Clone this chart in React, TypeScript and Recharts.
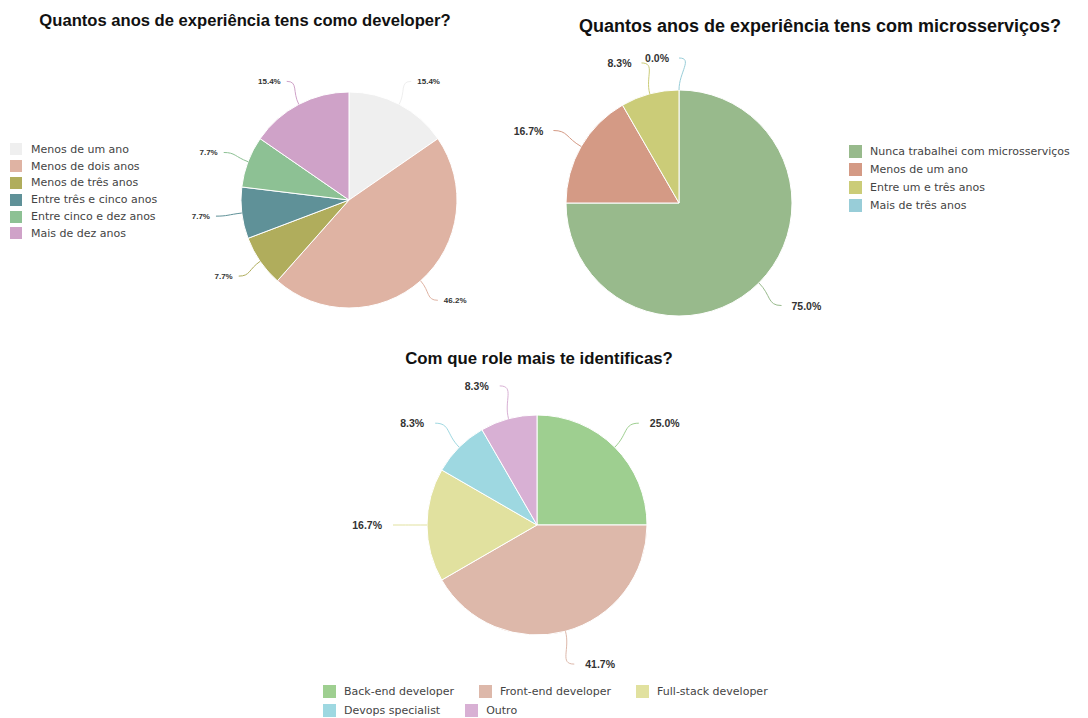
import React from "react";
import { PieChart, Pie, Cell } from "recharts";

// Quantos anos de experiência tens como developer?
const devNames = [
  "Menos de um ano",
  "Menos de dois anos",
  "Menos de três anos",
  "Entre três e cinco anos",
  "Entre cinco e dez anos",
  "Mais de dez anos",
];
const devValues = [2, 6, 1, 1, 1, 2];
const devColors = ["#efefef", "#dfb3a3", "#b0ad5c", "#5f9198", "#8dc194", "#cfa2c8"];

// Quantos anos de experiência tens com microsserviços?
const msNames = [
  "Nunca trabalhei com microsserviços",
  "Menos de um ano",
  "Entre um e três anos",
  "Mais de três anos",
];
const msValues = [9, 2, 1, 0];
const msColors = ["#98ba8c", "#d49a85", "#cbcc78", "#98cdd8"];

// Com que role mais te identificas?
const roleNames = [
  "Back-end developer",
  "Front-end developer",
  "Full-stack developer",
  "Devops specialist",
  "Outro",
];
const roleValues = [3, 5, 2, 1, 1];
const roleColors = ["#9ecf90", "#ddb8aa", "#e1e19f", "#9ed8e1", "#d8b0d4"];

const RAD = Math.PI / 180;
const TITLE_FONT = '"Liberation Sans", Arial, sans-serif';
const LEGEND_FONT = '"DejaVu Sans", Verdana, sans-serif';
const NO_MARGIN = { top: 0, right: 0, bottom: 0, left: 0 };

function toRows(names: string[], values: number[]) {
  return names.map((name, i) => ({ name, value: values[i] }));
}

// curved connector: leaves the slice radially, arrives horizontally
function makeLabel(colors: string[], len: number, gap: number, fontSize: number) {
  return (p: any) => {
    const { cx, cy, midAngle, outerRadius, percent, index } = p;
    const cos = Math.cos(-midAngle * RAD);
    const sin = Math.sin(-midAngle * RAD);
    const right = cos > 0;
    const dir = right ? 1 : -1;
    const sx = cx + outerRadius * cos;
    const sy = cy + outerRadius * sin;
    const c1x = cx + (outerRadius + len * 0.55) * cos;
    const c1y = cy + (outerRadius + len * 0.55) * sin;
    const ex = cx + (outerRadius + len) * cos;
    const ey = cy + (outerRadius + len) * sin;
    const c2x = ex - dir * len * 0.45;
    const c2y = ey;
    return (
      <g key={`lbl-${index}`}>
        <path
          d={`M${sx},${sy} C${c1x},${c1y} ${c2x},${c2y} ${ex},${ey}`}
          stroke={colors[index]}
          strokeWidth={1}
          fill="none"
        />
        <text
          x={ex + dir * gap}
          y={ey}
          textAnchor={right ? "start" : "end"}
          dominantBaseline="central"
          fontFamily={TITLE_FONT}
          fontWeight="bold"
          fontSize={fontSize}
          fill="#333"
        >
          {`${((percent || 0) * 100).toFixed(1)}%`}
        </text>
      </g>
    );
  };
}

function Title({ text, x, y, size }: { text: string; x: number; y: number; size: number }) {
  return (
    <div
      style={{
        position: "absolute",
        left: x - 300,
        top: y,
        width: 600,
        textAlign: "center",
        fontFamily: TITLE_FONT,
        fontWeight: "bold",
        fontSize: size,
        color: "#111",
        lineHeight: 1,
        whiteSpace: "nowrap",
      }}
    >
      {text}
    </div>
  );
}

function VerticalLegend({
  names,
  colors,
  left,
  top,
  step,
  box,
}: {
  names: string[];
  colors: string[];
  left: number;
  top: number;
  step: number;
  box: number;
}) {
  return (
    <div style={{ position: "absolute", left, top, fontFamily: LEGEND_FONT, fontSize: 11, color: "#444" }}>
      {names.map((n, i) => (
        <div key={n} style={{ display: "flex", alignItems: "center", height: step }}>
          <span style={{ width: box, height: box, background: colors[i], marginRight: 21 - box, flex: "none" }} />
          <span style={{ whiteSpace: "nowrap" }}>{n}</span>
        </div>
      ))}
    </div>
  );
}

function FlowLegend({ names, colors, left, top, width }: { names: string[]; colors: string[]; left: number; top: number; width: number }) {
  return (
    <div
      style={{
        position: "absolute",
        left,
        top,
        width,
        display: "flex",
        flexWrap: "wrap",
        columnGap: 25,
        fontFamily: LEGEND_FONT,
        fontSize: 11,
        color: "#444",
      }}
    >
      {names.map((n, i) => (
        <div key={n} style={{ display: "flex", alignItems: "center", height: 19 }}>
          <span style={{ width: 13, height: 13, background: colors[i], marginRight: 8, flex: "none" }} />
          <span style={{ whiteSpace: "nowrap" }}>{n}</span>
        </div>
      ))}
    </div>
  );
}

export default function App() {
  return (
    <div style={{ position: "absolute", left: 0, top: 0, width: 1088, height: 718, background: "#fff", overflow: "hidden" }}>
      <Title text="Quantos anos de experiência tens como developer?" x={245} y={13} size={16.6} />
      <Title text="Quantos anos de experiência tens com microsserviços?" x={820} y={17} size={18} />
      <Title text="Com que role mais te identificas?" x={539} y={351} size={16.8} />

      <div style={{ position: "absolute", left: 0, top: 0 }}>
        <PieChart width={544} height={340} margin={NO_MARGIN}>
          <Pie
            data={toRows(devNames, devValues)}
            dataKey="value"
            nameKey="name"
            cx={349}
            cy={200}
            outerRadius={108}
            startAngle={90}
            endAngle={-270}
            stroke="#fff"
            strokeWidth={1}
            labelLine={false}
            label={makeLabel(devColors, 26, 6, 8)}
            isAnimationActive={false}
          >
            {devValues.map((_, i) => (
              <Cell key={i} fill={devColors[i]} />
            ))}
          </Pie>
        </PieChart>
      </div>
      <VerticalLegend names={devNames} colors={devColors} left={10} top={141} step={16.8} box={12} />

      <div style={{ position: "absolute", left: 440, top: 0 }}>
        <PieChart width={648} height={340} margin={NO_MARGIN}>
          <Pie
            data={toRows(msNames, msValues)}
            dataKey="value"
            nameKey="name"
            cx={239}
            cy={203}
            outerRadius={113}
            startAngle={90}
            endAngle={-270}
            stroke="#fff"
            strokeWidth={1}
            labelLine={false}
            label={makeLabel(msColors, 32, 10, 10.5)}
            isAnimationActive={false}
          >
            {msValues.map((_, i) => (
              <Cell key={i} fill={msColors[i]} />
            ))}
          </Pie>
        </PieChart>
      </div>
      <VerticalLegend names={msNames} colors={msColors} left={849} top={142} step={18} box={13} />

      <div style={{ position: "absolute", left: 0, top: 340 }}>
        <PieChart width={1088} height={378} margin={NO_MARGIN}>
          <Pie
            data={toRows(roleNames, roleValues)}
            dataKey="value"
            nameKey="name"
            cx={537}
            cy={185}
            outerRadius={110}
            startAngle={90}
            endAngle={-270}
            stroke="#fff"
            strokeWidth={1}
            labelLine={false}
            label={makeLabel(roleColors, 34, 11, 10.5)}
            isAnimationActive={false}
          >
            {roleValues.map((_, i) => (
              <Cell key={i} fill={roleColors[i]} />
            ))}
          </Pie>
        </PieChart>
      </div>
      <FlowLegend names={roleNames} colors={roleColors} left={323} top={682} width={480} />
    </div>
  );
}
